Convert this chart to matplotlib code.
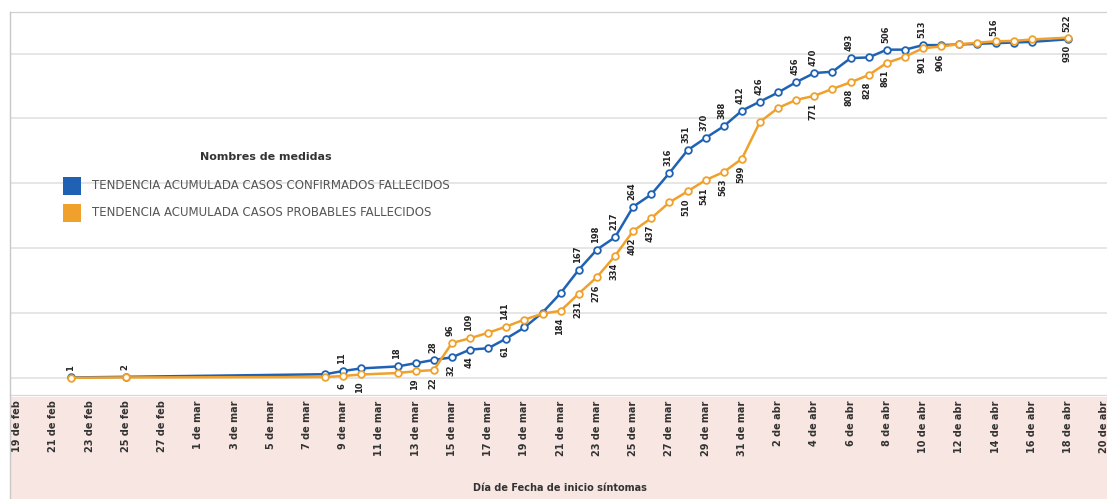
import numpy as np
import pandas as pd
import matplotlib
matplotlib.use('Agg')
import matplotlib.pyplot as plt
from matplotlib.patches import Rectangle
from matplotlib.lines import Line2D

# ---- data ----
start = '2021-02-19'

blue_dates = ['02-22', '02-25', '03-08', '03-09', '03-10', '03-12', '03-13', '03-14',
              '03-15', '03-16', '03-17', '03-18', '03-19', '03-20', '03-21', '03-22',
              '03-23', '03-24', '03-25', '03-26', '03-27', '03-28', '03-29', '03-30',
              '03-31', '04-01', '04-02', '04-03', '04-04', '04-05', '04-06', '04-07',
              '04-08', '04-09', '04-10', '04-11', '04-12', '04-13', '04-14', '04-15',
              '04-16', '04-18']
blue_values = [1, 2, 6, 11, 15, 18, 23, 28,
               32, 44, 46, 61, 78, 101, 131, 167,
               198, 217, 264, 283, 316, 351, 370, 388,
               412, 426, 440, 456, 470, 472, 493, 494,
               506, 506, 513, 513, 514, 515, 516, 517,
               518, 522]

orange_dates = blue_dates
orange_values = [1, 2, 3, 6, 10, 14, 19, 22,
                 96, 109, 124, 141, 160, 176, 184, 231,
                 276, 334, 402, 437, 480, 510, 541, 563,
                 599, 700, 738, 760, 771, 790, 808, 828,
                 861, 878, 901, 906, 912, 916, 920, 921,
                 925, 930]

# which points carry a value label (above / below the marker)
blue_lab_above = ['03-09', '03-12', '03-14', '03-22', '03-23', '03-24', '03-25', '03-27',
                  '03-28', '03-29', '03-30', '03-31', '04-01', '04-03', '04-04', '04-06',
                  '04-08', '04-10', '04-14', '04-18']
blue_lab_below = ['03-15', '03-16', '03-18']
orange_lab_above = ['02-22', '02-25', '03-15', '03-16', '03-18']
orange_lab_below = ['03-09', '03-10', '03-13', '03-14', '03-21', '03-22', '03-23', '03-24',
                    '03-25', '03-26', '03-28', '03-29', '03-30', '03-31', '04-04', '04-06',
                    '04-07', '04-08', '04-10', '04-11', '04-18']

series_names = ['TENDENCIA ACUMULADA CASOS CONFIRMADOS FALLECIDOS',
                'TENDENCIA ACUMULADA CASOS PROBABLES FALLECIDOS']
month_names = {2: 'feb', 3: 'mar', 4: 'abr'}

BLUE = '#1f62b3'
ORANGE = '#f0a12c'

t0 = pd.Timestamp(start)
def day(md):
    return (pd.Timestamp('2021-' + md) - t0).days

bx = np.array([day(d) for d in blue_dates])
ox = np.array([day(d) for d in orange_dates])

W, H = 1107, 499
fig = plt.figure(figsize=(W / 100, H / 100), dpi=100)
fig.patch.set_facecolor('white')

# pink band under the plot, where the dates sit
fig.add_artist(Rectangle((10 / W, 0), 1, 1 - 397 / H, transform=fig.transFigure,
                         facecolor='#f7e6e1', edgecolor='none', zorder=-5))
fig.add_artist(Line2D([10 / W, 10 / W], [0, 1 - 12 / H], transform=fig.transFigure,
                      color='#c8c8c8', lw=1))

ax = fig.add_axes([10 / W, 1 - 395 / H, 1 - 10 / W, (395 - 12) / H])
ax2 = ax.twinx()

ax.plot(bx, blue_values, color=BLUE, lw=1.8, marker='o', ms=4.8,
        mfc='white', mec=BLUE, mew=1.3)
ax2.plot(ox, orange_values, color=ORANGE, lw=1.8, marker='o', ms=4.8,
         mfc='white', mec=ORANGE, mew=1.3)

ax.set_xlim(-0.39, 60.15)
ax.set_ylim(-26, 564)
ax2.set_ylim(-46, 1000)

def put_labels(a, xs, vals, dates, above, below):
    for x, v, d in zip(xs, vals, dates):
        if d in above:
            a.annotate(str(v), (x, v), xytext=(-1, 5), textcoords='offset points',
                       rotation=90, ha='center', va='bottom', fontsize=6,
                       fontweight='bold', color='#222222')
        elif d in below:
            a.annotate(str(v), (x, v), xytext=(-1, -5), textcoords='offset points',
                       rotation=90, ha='center', va='top', fontsize=6,
                       fontweight='bold', color='#222222')

put_labels(ax, bx, blue_values, blue_dates, blue_lab_above, blue_lab_below)
put_labels(ax2, ox, orange_values, orange_dates, orange_lab_above, orange_lab_below)

# grid and axes styling
ax.set_yticks(np.arange(0, 501, 100))
ax.grid(axis='y', color='#e4e4e4', lw=1.3)
ax.set_axisbelow(True)
ax.tick_params(axis='y', length=0, labelleft=False)
ax2.tick_params(axis='y', length=0, labelright=False)
for a in (ax, ax2):
    a.spines['right'].set_visible(False)
    a.spines['left'].set_visible(False)
    a.spines['top'].set_color('#d0d0d0')
    a.spines['bottom'].set_color('#d8d8d8')

tick_days = pd.date_range(start, '2021-04-20', freq='2D')
ax.set_xticks([(d - t0).days for d in tick_days])
ax.set_xticklabels([f'{d.day} de {month_names[d.month]}' for d in tick_days],
                   rotation=90, fontsize=7, fontweight='bold', color='#333333')
ax.tick_params(axis='x', length=0, pad=4)

fig.text(560 / W, 1 - 488 / H, 'Día de Fecha de inicio síntomas', ha='center',
         va='center', fontsize=7, fontweight='bold', color='#333333')

# legend drawn by hand
fig.text(266 / W, 1 - 157 / H, 'Nombres de medidas', ha='center', va='center',
         fontsize=8, fontweight='bold', color='#333333')
for i, (name, col) in enumerate(zip(series_names, [BLUE, ORANGE])):
    yc = 186 + i * 27
    fig.add_artist(Rectangle((63 / W, 1 - (yc + 9) / H), 18 / W, 18 / H,
                             transform=fig.transFigure, facecolor=col, edgecolor='none'))
    fig.text(92 / W, 1 - yc / H, name, ha='left', va='center', fontsize=8.5,
             color='#555555')

fig.savefig('out.png', dpi=100)
